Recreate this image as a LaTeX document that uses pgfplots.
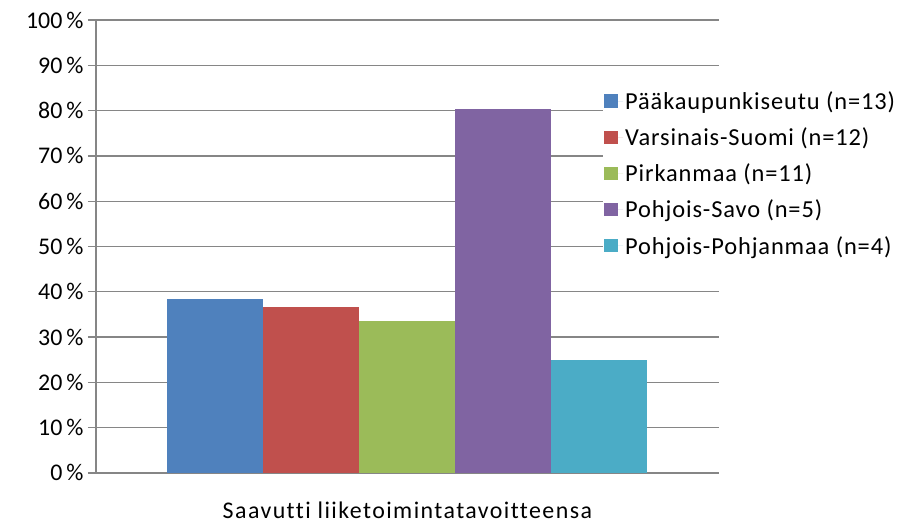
\documentclass[border=0pt]{standalone}
\usepackage{fontspec}
\setmainfont{Carlito}
\usepackage{pgfplots}
\pgfplotsset{compat=1.18}
\definecolor{c1}{HTML}{4F81BD}
\definecolor{c2}{HTML}{C0504D}
\definecolor{c3}{HTML}{9BBB59}
\definecolor{c4}{HTML}{8064A2}
\definecolor{c5}{HTML}{4BACC6}
\definecolor{axgray}{HTML}{868686}
\begin{document}
\begin{tikzpicture}[x=1bp,y=1bp]
% frame to keep the picture at 898x528 bp
\path (-96,-55) rectangle (802,473);
\begin{axis}[
    at={(0,0)}, anchor=south west,
    scale only axis,
    width=623bp, height=453bp,
    ybar=0pt,
    bar width=96bp,
    xmin=-1, xmax=1,
    ymin=0, ymax=100,
    ytick={0,10,...,100},
    yticklabel={\pgfmathprintnumber{\tick}\,\%},
    /pgf/number format/assume math mode=true,
    xtick={0},
    xticklabels={Saavutti liiketoimintatavoitteensa},
    extra x ticks={-1,1},
    extra x tick labels={},
    extra x tick style={major tick length=8bp, tick style={axgray, line width=1.6bp}},
    x tick label style={yshift=-17bp, font=\fontsize{24}{28}\selectfont\addfontfeatures{LetterSpace=6,Ligatures=NoCommon}},
    tick label style={font=\fontsize{24}{28}\selectfont, black},
    axis x line*=bottom,
    axis y line*=left,
    axis line style={axgray, line width=1.6bp, -},
    ymajorgrids,
    grid style={axgray, line width=1.3bp},
    y tick style={axgray, line width=1.3bp},
    x tick style={draw=none},
    tick align=outside,
    major tick length=8bp,
    yticklabel style={xshift=-1bp},
    legend style={
        at={(0.814,0.853)}, anchor=north west,
        draw=none, fill=white,
        font=\fontsize{24.5}{28}\selectfont\addfontfeatures{LetterSpace=3.6,Ligatures=NoCommon},
        row sep=12.8bp,
        inner xsep=1bp, inner ysep=3bp,
        cells={anchor=west},
    },
    legend image code/.code={\fill[#1] (0bp,-6.5bp) rectangle (13.5bp,7bp);
        \path (0bp,0bp) -- (19bp,0bp);},
]
\addplot[fill=c1, draw=none] coordinates {(0,38.5)};
\addplot[fill=c2, draw=none] coordinates {(0,36.7)};
\addplot[fill=c3, draw=none] coordinates {(0,33.6)};
\addplot[fill=c4, draw=none] coordinates {(0,80.3)};
\addplot[fill=c5, draw=none] coordinates {(0,25.0)};
\legend{Pääkaupunkiseutu (n=13), Varsinais-Suomi (n=12), Pirkanmaa (n=11), Pohjois-Savo (n=5), Pohjois-Pohjanmaa (n=4)}
\end{axis}
\end{tikzpicture}
\end{document}
